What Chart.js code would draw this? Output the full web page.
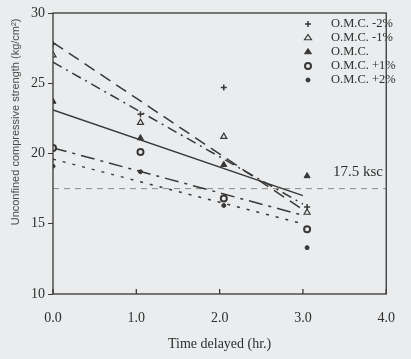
<!DOCTYPE html>
<html>
<head>
<meta charset="utf-8">
<script src="https://cdn.jsdelivr.net/npm/chart.js@4/dist/chart.umd.min.js"></script>
<style>
  body { margin: 0; background: #eaecee; }
  canvas { display: block; }
</style>
</head>
<body>
<canvas id="ucsChart" width="411" height="359"></canvas>
<script>
// measured points (time in hr, strength in kg/cm2)
var times = [0, 1.05, 2.05, 3.05];
var omcM2 = [27.8, 22.8, 24.7, 16.2];
var omcM1 = [27.0, 22.2, 21.2, 15.8];
var omcMid = [23.7, 21.1, 19.2, 18.4];
var omcP1 = [20.4, 20.1, 16.8, 14.6];
var omcP2 = [19.1, 18.7, 16.3, 13.3];

// trend lines, read at t = 0 and t = 3.0
var fitTimes = [0, 3.0];
var fitM2 = [27.9, 16.0];
var fitM1 = [26.5, 16.4];
var fitMid = [23.1, 17.0];
var fitP1 = [20.4, 15.6];
var fitP2 = [19.6, 15.0];

var limitTimes = [0, 4];
var limitValue = [17.5, 17.5];

var xTicks = [0, 1, 2, 3, 4];
var yTicks = [10, 15, 20, 25, 30];

var labels = ["O.M.C. -2%", "O.M.C. -1%", "O.M.C.", "O.M.C. +1%", "O.M.C. +2%"];

var ink = "#383838";
var paper = "#eaecee";

function pts(xs, ys) {
    return xs.map(function (x, i) { return {x: x, y: ys[i]}; });
}

function fitLine(ys, dash) {
    return {
        type: "line",
        data: pts(fitTimes, ys),
        borderColor: ink,
        borderWidth: 1.5,
        borderDash: dash,
        pointRadius: 0,
        fill: false
    };
}

var markers = [
    {style: "cross", radius: 3, fill: ink, width: 1.5},
    {style: "triangle", radius: 3.5, fill: paper, width: 1.2},
    {style: "triangle", radius: 3.5, fill: ink, width: 1},
    {style: "circle", radius: 3, fill: paper, width: 2},
    {style: "circle", radius: 2, fill: ink, width: 1}
];
var series = [omcM2, omcM1, omcMid, omcP1, omcP2];

var datasets = [];
series.forEach(function (s, i) {
    var m = markers[i];
    datasets.push({
        type: "scatter",
        label: labels[i],
        data: pts(times, s),
        pointStyle: m.style,
        pointRadius: m.radius,
        pointBackgroundColor: m.fill,
        pointBorderColor: ink,
        pointBorderWidth: m.width,
        showLine: false
    });
});
datasets.push(fitLine(fitM2, [12, 7]));
datasets.push(fitLine(fitM1, [10, 5, 2, 5]));
datasets.push(fitLine(fitMid, []));
datasets.push(fitLine(fitP1, [14, 6, 3, 6]));
datasets.push(fitLine(fitP2, [3, 7]));
datasets.push({
    type: "line",
    data: pts(limitTimes, limitValue),
    borderColor: "#8a8a8a",
    borderWidth: 1,
    borderDash: [6, 5],
    pointRadius: 0
});

function drawMarker(ctx, m, x, y) {
    ctx.save();
    ctx.strokeStyle = ink;
    ctx.fillStyle = m.fill;
    ctx.lineWidth = m.width;
    ctx.beginPath();
    var r = m.radius;
    if (m.style == "cross") {
        ctx.moveTo(x - r, y); ctx.lineTo(x + r, y);
        ctx.moveTo(x, y - r); ctx.lineTo(x, y + r);
        ctx.stroke();
    } else if (m.style == "triangle") {
        var h = r * 1.5;
        ctx.moveTo(x, y - h * 2 / 3);
        ctx.lineTo(x + r, y + h / 3);
        ctx.lineTo(x - r, y + h / 3);
        ctx.closePath();
        ctx.fill(); ctx.stroke();
    } else {
        ctx.arc(x, y, r, 0, Math.PI * 2);
        ctx.fill(); ctx.stroke();
    }
    ctx.restore();
}

var extras = {
    id: "extras",
    afterDraw: function (chart) {
        var ctx = chart.ctx, a = chart.chartArea, xs = chart.scales.x;
        ctx.save();
        // frame
        ctx.strokeStyle = ink;
        ctx.lineWidth = 1.3;
        ctx.strokeRect(a.left, a.top, a.right - a.left, a.bottom - a.top);
        // inward x ticks
        xTicks.forEach(function (t) {
            var px = xs.getPixelForValue(t);
            ctx.beginPath();
            ctx.moveTo(px, a.bottom);
            ctx.lineTo(px, a.bottom - 5);
            ctx.stroke();
        });
        // legend
        ctx.font = "12.5px 'Liberation Serif'";
        ctx.fillStyle = "#2e2e2e";
        ctx.textBaseline = "middle";
        labels.forEach(function (lab, i) {
            var y = 24 + i * 14;
            drawMarker(ctx, markers[i], 308, y);
            ctx.fillText(lab, 331, y);
        });
        // limit label
        ctx.font = "15px 'Liberation Serif'";
        ctx.textBaseline = "alphabetic";
        ctx.fillText("17.5 ksc", 333, 176);
        // y title
        ctx.translate(16, 122);
        ctx.rotate(-Math.PI / 2);
        ctx.textAlign = "center";
        ctx.textBaseline = "middle";
        ctx.font = "11px 'Liberation Sans'";
        ctx.fillStyle = "#4a4a4a";
        ctx.fillText("Unconfined compressive strength (kg/cm\u00b2)", 0, 0);
        ctx.restore();
    }
};

var ucsChart = new Chart(document.getElementById("ucsChart"), {
    data: {datasets: datasets},
    options: {
        responsive: false,
        animation: false,
        layout: {padding: {top: 13, right: 14, left: 0, bottom: 0}},
        plugins: {legend: {display: false}, tooltip: {enabled: false}},
        scales: {
            x: {
                type: "linear",
                min: 0, max: 4,
                afterBuildTicks: function (s) { s.ticks = xTicks.map(function (v) { return {value: v}; }); },
                ticks: {
                    padding: 16,
                    color: "#2e2e2e",
                    font: {family: "'Liberation Serif'", size: 14},
                    callback: function (v) { return v.toFixed(1); }
                },
                grid: {drawOnChartArea: false, drawTicks: false},
                border: {display: false},
                title: {
                    display: true,
                    text: "Time delayed (hr.)",
                    color: "#2e2e2e",
                    font: {family: "'Liberation Serif'", size: 14},
                    padding: {top: 0, bottom: 6}
                },
                afterFit: function (s) { s.height = 65; }
            },
            y: {
                type: "linear",
                min: 10, max: 30,
                afterBuildTicks: function (s) { s.ticks = yTicks.map(function (v) { return {value: v}; }); },
                ticks: {
                    padding: 3,
                    color: "#2e2e2e",
                    font: {family: "'Liberation Serif'", size: 14}
                },
                grid: {drawOnChartArea: false, drawTicks: true, tickLength: 5, color: ink},
                border: {display: false},
                afterFit: function (s) { s.width = 53; }
            }
        }
    },
    plugins: [extras]
});
</script>
</body>
</html>
